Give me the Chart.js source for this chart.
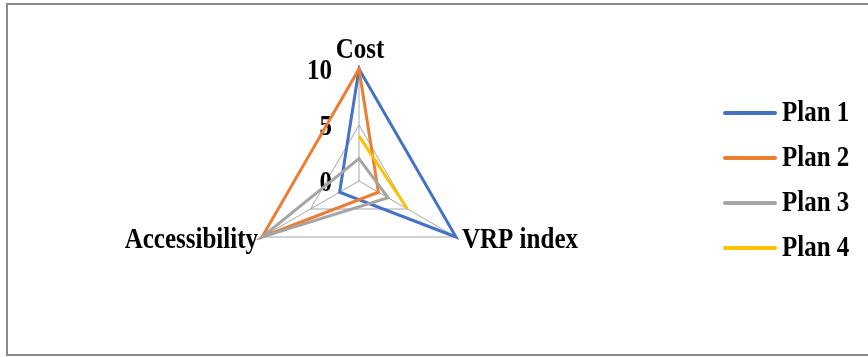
<!DOCTYPE html>
<html>
<head>
<meta charset="utf-8">
<script src="https://cdn.jsdelivr.net/npm/chart.js@4/dist/chart.umd.min.js"></script>
<style>
  html, body { margin: 0; padding: 0; background: #ffffff; overflow: hidden; }
  #wrap { position: relative; width: 868px; height: 357px; overflow: hidden; }
  #frame {
    position: absolute; left: 6px; top: 3px; width: 900px; height: 353px;
    box-sizing: border-box; border: 2px solid #8a8a8a;
  }
  #chart { position: absolute; left: 0; top: 0; }
</style>
</head>
<body>
<div id="wrap">
  <div id="frame"></div>
  <canvas id="chart" width="868" height="357"></canvas>
</div>
<script>
// Criteria around the radar, clockwise from the top
const categories = ['Cost', 'VRP index', 'Accessibility'];

// Scores of each plan on the three criteria (Plan 4 has no Accessibility score)
const plan1 = [10, 10, 2];
const plan2 = [10, 2, 10];
const plan3 = [2, 3, 10];
const plan4 = [4, 5, null];

const seriesNames = ['Plan 1', 'Plan 2', 'Plan 3', 'Plan 4'];
const seriesColors = ['#4472C4', '#ED7D31', '#A5A5A5', '#FFC000'];

// Radial axis ticks
const tickValues = [0, 5, 10];
const tickLabels = ['0', '5', '10'];

const FONT = 'bold 25px "Liberation Serif", "Times New Roman", serif';
const TEXT_STRETCH = 1.15; // tall, narrow serif lettering

function drawText(ctx, text, x, y) {
  ctx.save();
  ctx.translate(x, y);
  ctx.scale(1, TEXT_STRETCH);
  ctx.fillText(text, 0, 0);
  ctx.restore();
}

// Axis value labels sit to the left of the vertical (Cost) spoke,
// criterion names sit just outside each corner of the outer ring.
const radarText = {
  id: 'radarText',
  beforeDatasetsDraw(chart) {
    const scale = chart.scales.r;
    const ctx = chart.ctx;
    ctx.save();
    ctx.font = FONT;
    ctx.fillStyle = '#000000';

    // tick labels
    ctx.textAlign = 'right';
    ctx.textBaseline = 'middle';
    tickValues.forEach((v, i) => {
      const y = scale.yCenter - scale.getDistanceFromCenterForValue(v);
      drawText(ctx, tickLabels[i], scale.xCenter - 27, y + 3);
    });

    // criterion names
    ctx.textBaseline = 'alphabetic';
    categories.forEach((name, i) => {
      const p = scale.getPointPosition(i, scale.drawingArea);
      if (i === 0) {
        ctx.textAlign = 'center';
        drawText(ctx, name, p.x + 1, p.y - 11);
      } else if (p.x > scale.xCenter) {
        ctx.textAlign = 'left';
        drawText(ctx, name, p.x + 6, p.y + 11);
      } else {
        ctx.textAlign = 'right';
        drawText(ctx, name, p.x - 4, p.y + 11);
      }
    });
    ctx.restore();
  }
};

// Legend on the right: a short coloured line followed by the plan name
const sideLegend = {
  id: 'sideLegend',
  afterDraw(chart) {
    const ctx = chart.ctx;
    ctx.save();
    ctx.font = FONT;
    ctx.textAlign = 'left';
    ctx.textBaseline = 'middle';
    chart.data.datasets.forEach((ds, i) => {
      const y = 113 + i * 45;
      ctx.strokeStyle = ds.borderColor;
      ctx.lineWidth = 4;
      ctx.lineCap = 'round';
      ctx.beginPath();
      ctx.moveTo(725, y);
      ctx.lineTo(775, y);
      ctx.stroke();
      ctx.fillStyle = '#000000';
      drawText(ctx, ds.label, 782, y + 1);
    });
    ctx.restore();
  }
};

const seriesValues = [plan1, plan2, plan3, plan4];

new Chart(document.getElementById('chart'), {
  type: 'radar',
  data: {
    labels: categories,
    datasets: seriesNames.map((name, i) => ({
      label: name,
      data: seriesValues[i],
      borderColor: seriesColors[i],
      backgroundColor: seriesColors[i],
      borderWidth: 3,
      borderJoinStyle: 'miter',
      pointRadius: 0,
      pointHoverRadius: 0,
      fill: false,
      spanGaps: false,
      // later plans are painted over earlier ones
      order: seriesNames.length - i
    }))
  },
  options: {
    responsive: false,
    devicePixelRatio: 1,
    animation: false,
    layout: { padding: { left: 0, right: 150, top: 69, bottom: 64 } },
    plugins: {
      legend: { display: false },
      tooltip: { enabled: false }
    },
    scales: {
      r: {
        min: 0,
        max: 10,
        ticks: { stepSize: 5, display: false },
        grid: { color: '#A6A6A6', lineWidth: 1 },
        angleLines: { color: '#A6A6A6', lineWidth: 1 },
        pointLabels: { display: false }
      }
    }
  },
  plugins: [radarText, sideLegend]
});
</script>
</body>
</html>
